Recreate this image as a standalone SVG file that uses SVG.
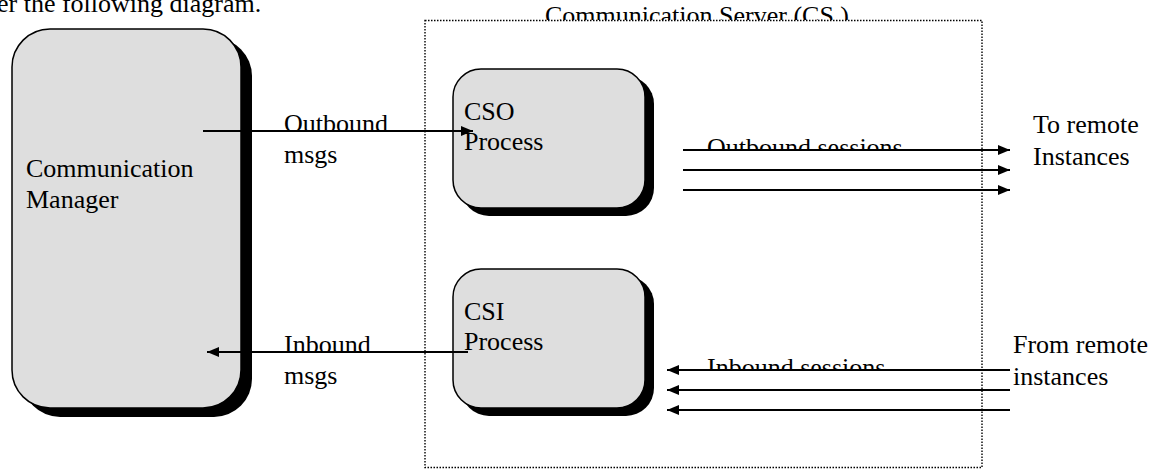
<svg xmlns="http://www.w3.org/2000/svg" width="1157" height="470" viewBox="0 0 1157 470">
  <style>
    text { font-family: "Liberation Serif", "Times New Roman", serif; font-size: 26px; fill: #000; }
    .box { fill: #dedede; stroke: #000; stroke-width: 1.5; }
    .shadow { fill: #000; }
    .conn { stroke: #000; stroke-width: 2; fill: none; marker-end: url(#arrow); }
    .frame { fill: none; stroke: #000; stroke-width: 1.4; stroke-dasharray: 1.5 1.5; }
  </style>
  <defs>
    <marker id="arrow" viewBox="0 0 12 10" refX="12" refY="5" markerWidth="12" markerHeight="10" markerUnits="userSpaceOnUse" orient="auto">
      <path d="M0,0 L12,5 L0,10 z" fill="#000"/>
    </marker>
    <!-- labels sitting on lines are cut off at the line -->
    <clipPath id="clipTitle"><rect x="400" y="0" width="600" height="20"/></clipPath>
    <clipPath id="clipOutSess"><rect x="680" y="120" width="300" height="30"/></clipPath>
    <clipPath id="clipInSess"><rect x="680" y="340" width="300" height="30"/></clipPath>
  </defs>

  <rect width="1157" height="470" fill="#fff"/>

  <!-- leading sentence, partly out of view -->
  <text x="-3" y="12">er the following diagram.</text>

  <!-- Communication Server frame title -->
  <g id="cs-title" clip-path="url(#clipTitle)">
    <text x="545" y="24">Communication Server (CS )</text>
  </g>

  <g id="comm-manager">
    <rect class="shadow" x="22" y="38" width="230" height="379" rx="38"/>
    <rect class="box" x="12" y="29" width="229" height="379" rx="38"/>
    <text x="26" y="177">Communication</text>
    <text x="26" y="208">Manager</text>
  </g>

  <g id="cso-process">
    <rect class="shadow" x="461" y="76" width="193" height="140" rx="28"/>
    <rect class="box" x="453" y="69" width="192" height="139" rx="28"/>
    <text x="464" y="120">CSO</text>
    <text x="464" y="150">Process</text>
  </g>

  <g id="csi-process">
    <rect class="shadow" x="461" y="276" width="193" height="140" rx="28"/>
    <rect class="box" x="453" y="269" width="192" height="139" rx="28"/>
    <text x="464" y="320">CSI</text>
    <text x="464" y="350">Process</text>
  </g>

  <g id="labels">
    <text x="284" y="132">Outbound</text>
    <text x="284" y="163">msgs</text>
    <text x="284" y="353">Inbound</text>
    <text x="284" y="384">msgs</text>
    <g clip-path="url(#clipOutSess)"><text x="707" y="156">Outbound sessions</text></g>
    <g clip-path="url(#clipInSess)"><text x="707" y="376">Inbound sessions</text></g>
    <text x="1033" y="133">To remote</text>
    <text x="1033" y="165">Instances</text>
    <text x="1013" y="353">From remote</text>
    <text x="1013" y="385">instances</text>
  </g>

  <rect id="cs-frame" class="frame" x="425" y="20.5" width="557" height="447"/>

  <g id="connectors">
    <line class="conn" x1="203" y1="131" x2="473" y2="131"/>
    <line class="conn" x1="468" y1="352" x2="207" y2="352"/>
    <line class="conn" x1="683" y1="150" x2="1010" y2="150"/>
    <line class="conn" x1="683" y1="170" x2="1010" y2="170"/>
    <line class="conn" x1="683" y1="190" x2="1010" y2="190"/>
    <line class="conn" x1="1010" y1="370" x2="667" y2="370"/>
    <line class="conn" x1="1010" y1="390" x2="667" y2="390"/>
    <line class="conn" x1="1010" y1="410" x2="667" y2="410"/>
  </g>
</svg>
